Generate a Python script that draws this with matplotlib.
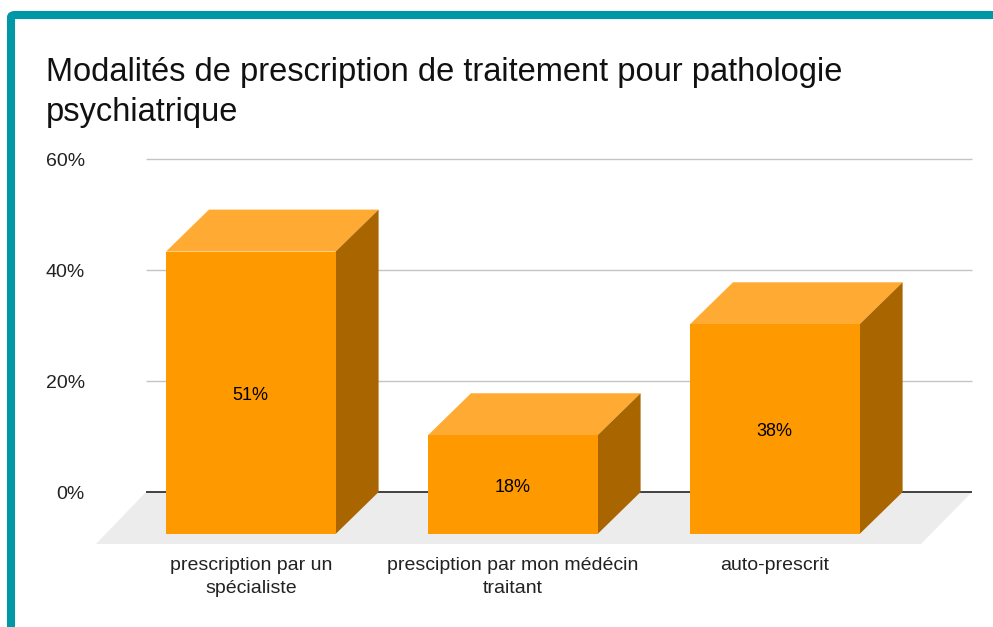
import matplotlib
matplotlib.use("Agg")
import matplotlib.pyplot as plt
from matplotlib.patches import Polygon, FancyBboxPatch

plt.rcParams['font.family'] = ['Liberation Sans', 'DejaVu Sans']

categories = ["prescription par un\nspécialiste", "presciption par mon médécin\ntraitant", "auto-prescrit"]
values = [50.9, 17.8, 37.8]
value_labels = ["51%", "18%", "38%"]
y_ticks = [0, 20, 40, 60]
y_tick_labels = ["0%", "20%", "40%", "60%"]
title_lines = ["Modalités de prescription de traitement pour pathologie", "psychiatrique"]

W, H = 993, 627
fig = plt.figure(figsize=(W / 100, H / 100), dpi=100, facecolor="white")

# teal frame
frame = FancyBboxPatch((11 / W, 1 - 700 / H), 1200 / W, (700 - 15) / H,
                       boxstyle="round,pad=0,rounding_size=0.004",
                       transform=fig.transFigure, fc="white", ec="#0097A7", lw=5.8, zorder=0)
fig.add_artist(frame)
fig.text(46 / W, 1 - 72 / H, title_lines[0], fontsize=23.5, color="#111111", va="center", ha="left")
fig.text(46 / W, 1 - 112 / H, title_lines[1], fontsize=23.5, color="#111111", va="center", ha="left")

# plot area: x 96..972, y 159..544 px
ax = fig.add_axes([96 / W, 1 - 544 / H, (972 - 96) / W, (544 - 159) / H])
ax.patch.set_alpha(0)
unit = 262.0
ppy = 333.0 / 60
ax.set_xlim(-(250.8 - 96) / unit, (972 - 250.8) / unit)
ax.set_ylim(-(544 - 492) / ppy, 60 + 0.02)
for s in ax.spines.values():
    s.set_visible(False)

bar_w = 169.6 / unit
dx = 43 / unit
dy = 42 / ppy
xl, xr = ax.get_xlim()
x_grid = (146 - 96) / unit + xl

ax.add_patch(Polygon([(xl, ax.get_ylim()[0]), (xr - 51 / unit, ax.get_ylim()[0]), (xr, 0), (x_grid, 0)],
                     closed=True, fc="#ECECEC", ec="none", zorder=1))
for t in y_ticks:
    ax.plot([x_grid, xr], [t, t], color="#333333" if t == 0 else "#C4C4C4",
            lw=1.3 if t == 0 else 1.0, zorder=2, solid_capstyle="butt", clip_on=False)

positions = list(range(len(values)))
ax.bar(positions, values, width=bar_w, bottom=-dy, color="#FF9900", zorder=5, linewidth=0)
for x, v, lab in zip(positions, values, value_labels):
    l, r = x - bar_w / 2, x + bar_w / 2
    top = v - dy
    ax.add_patch(Polygon([(l, top), (r, top), (r + dx, v), (l + dx, v)], closed=True,
                         fc="#FFAB33", ec="none", zorder=4))
    ax.add_patch(Polygon([(r, -dy), (r + dx, 0), (r + dx, v), (r, top)], closed=True,
                         fc="#A86500", ec="none", zorder=4))
    ax.text(x, top - v / 2 - 0.5, lab, ha="center", va="center", fontsize=13, color="black", zorder=6)

ax.set_yticks(y_ticks)
ax.set_yticklabels(y_tick_labels, fontsize=14, color="#222222")
ax.set_xticks(positions)
ax.set_xticklabels(categories, fontsize=14, color="#222222", linespacing=1.42)
ax.tick_params(axis="both", length=0)
ax.tick_params(axis="y", pad=8)
ax.tick_params(axis="x", pad=9.5)

fig.savefig("out.png", dpi=100, facecolor="white")
